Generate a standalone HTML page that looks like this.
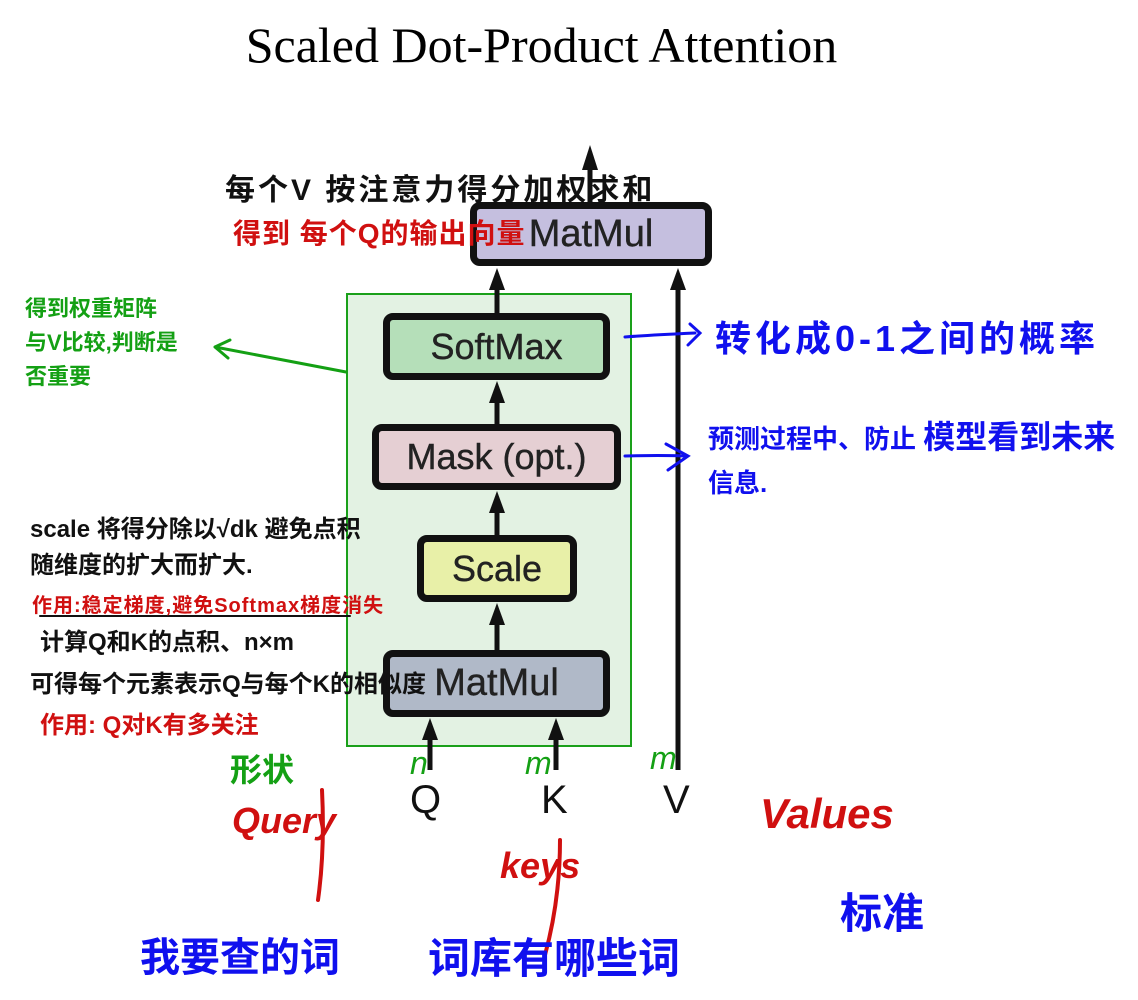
<!DOCTYPE html>
<html><head><meta charset="utf-8"><style>
body{margin:0;width:1138px;height:1000px;background:#fff;position:relative;overflow:hidden;font-family:"Liberation Sans","Noto Sans CJK SC",sans-serif}
.t{position:absolute;white-space:nowrap;font-family:"Liberation Sans","WenQuanYi Zen Hei","Noto Sans CJK SC",sans-serif;font-weight:bold}
.box{position:absolute;border:7px solid #111;border-radius:10px;box-sizing:border-box;display:flex;align-items:center;justify-content:center;font-size:36px;color:#222;font-family:"Liberation Sans",sans-serif;-webkit-text-stroke:0.4px #222}
</style></head><body>
<div class="t" style="left:0;width:1083px;text-align:center;top:16px;font-family:'Liberation Serif',serif;font-weight:normal;font-size:50px;color:#000">Scaled Dot-Product Attention</div>
<div style="position:absolute;left:346px;top:293px;width:286px;height:454px;background:#e3f2e3;border:2px solid #1aa01a;box-sizing:border-box"></div>
<svg style="position:absolute;left:0;top:0" width="1138" height="1000">
<g fill="#111" stroke="#111" stroke-width="5">
<line x1="497" y1="313" x2="497" y2="285"/><polygon points="489,290 497,268 505,290" stroke="none"/>
<line x1="497" y1="424" x2="497" y2="398"/><polygon points="489,403 497,381 505,403" stroke="none"/>
<line x1="497" y1="535" x2="497" y2="508"/><polygon points="489,513 497,491 505,513" stroke="none"/>
<line x1="497" y1="650" x2="497" y2="620"/><polygon points="489,625 497,603 505,625" stroke="none"/>
<line x1="430" y1="770" x2="430" y2="735"/><polygon points="422,740 430,718 438,740" stroke="none"/>
<line x1="556" y1="770" x2="556" y2="735"/><polygon points="548,740 556,718 564,740" stroke="none"/>
<line x1="678" y1="770" x2="678" y2="285"/><polygon points="670,290 678,268 686,290" stroke="none"/>
<line x1="590" y1="202" x2="590" y2="165"/><polygon points="582,170 590,145 598,170" stroke="none"/>
</g>
<g fill="none" stroke-linecap="round" stroke-width="3">
<path d="M346 372 L215 347 M215 347 L230 340 M215 347 L228 358" stroke="#14a014"/>
<path d="M625 337 Q650 335 695 333 M690 324 L700 333 L688 345" stroke="#1010ee"/>
<path d="M625 456 Q660 455 685 456 M666 444 L688 456 L668 470" stroke="#1010ee"/>
<path d="M40 616 L350 616" stroke="#111" stroke-width="2"/>
<path d="M322 790 Q325 850 318 900" stroke="#d01010" stroke-width="4"/>
<path d="M560 840 Q560 900 545 955" stroke="#d01010" stroke-width="4"/>
</g>
</svg>
<div class="box" style="left:470px;top:202px;width:242px;height:64px;background:#c5bfdf;font-size:38px">MatMul</div>
<div class="box" style="left:383px;top:313px;width:227px;height:67px;background:#b5dfb9">SoftMax</div>
<div class="box" style="left:372px;top:424px;width:249px;height:66px;background:#e5cfd3">Mask (opt.)</div>
<div class="box" style="left:417px;top:535px;width:160px;height:67px;background:#e8f0a8">Scale</div>
<div class="box" style="left:383px;top:650px;width:227px;height:67px;background:#b0b9c8;font-size:38px">MatMul</div>
<div class="t" style="left:410px;top:778px;font-size:40px;font-weight:normal;color:#111">Q</div>
<div class="t" style="left:541px;top:778px;font-size:40px;font-weight:normal;color:#111">K</div>
<div class="t" style="left:663px;top:778px;font-size:40px;font-weight:normal;color:#111">V</div>

<div class="t" style="left:225px;top:165px;font-size:30px;letter-spacing:3px;color:#111">每个V 按注意力得分加权求和</div>
<div class="t" style="left:233px;top:212px;font-size:28px;letter-spacing:1px;color:#d01010">得到 每个Q的输出向量</div>
<div class="t" style="left:25px;top:292px;font-size:22px;line-height:34px;color:#14a014">得到权重矩阵<br>与V比较,判断是<br>否重要</div>
<div class="t" style="left:715px;top:310px;font-size:36px;letter-spacing:4px;color:#1010ee">转化成0-1之间的概率</div>
<div class="t" style="left:708px;top:415px;font-size:26px;line-height:44px;color:#1010ee">预测过程中、防止 <span style="font-size:32px">模型看到未来</span><br>信息.</div>
<div class="t" style="left:30px;top:512px;font-size:24px;line-height:36px;color:#111">scale 将得分除以√dk 避免点积<br>随维度的扩大而扩大.</div>
<div class="t" style="left:32px;top:589px;font-size:20px;letter-spacing:1px;color:#d01010">作用:稳定梯度,避免Softmax梯度消失</div>
<div class="t" style="left:40px;top:622px;font-size:24px;line-height:42px;color:#111">计算Q和K的点积、n×m<br><span style="margin-left:-10px">可得每个元素表示Q与每个K的相似度</span></div>
<div class="t" style="left:40px;top:705px;font-size:24px;color:#d01010">作用: Q对K有多关注</div>
<div class="t" style="left:230px;top:745px;font-size:32px;color:#14a014">形状</div>
<div class="t" style="left:410px;top:745px;font-size:32px;font-weight:normal;font-style:italic;color:#14a014">n</div>
<div class="t" style="left:525px;top:745px;font-size:32px;font-weight:normal;font-style:italic;color:#14a014">m</div>
<div class="t" style="left:650px;top:740px;font-size:32px;font-weight:normal;font-style:italic;color:#14a014">m</div>
<div class="t" style="left:232px;top:800px;font-size:36px;font-style:italic;color:#d01010">Query</div>
<div class="t" style="left:500px;top:845px;font-size:36px;font-style:italic;color:#d01010">keys</div>
<div class="t" style="left:760px;top:790px;font-size:42px;font-style:italic;color:#d01010">Values</div>
<div class="t" style="left:840px;top:880px;font-size:42px;color:#1010ee">标准</div>
<div class="t" style="left:140px;top:925px;font-size:40px;color:#1010ee">我要查的词</div>
<div class="t" style="left:428px;top:925px;font-size:42px;color:#1010ee">词库有哪些词</div>
</body></html>
